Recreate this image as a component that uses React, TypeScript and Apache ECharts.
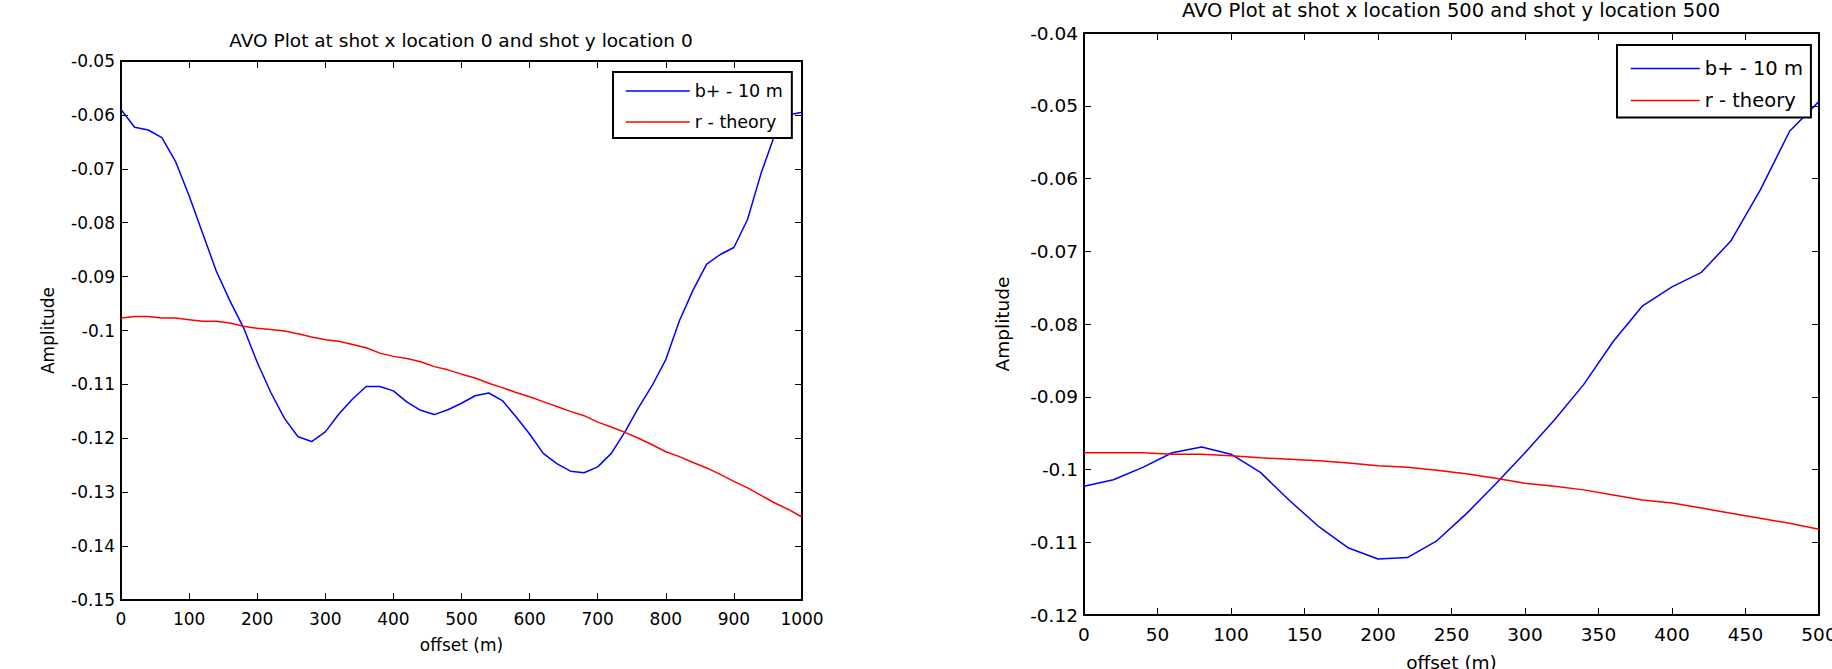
import React, { useEffect, useRef } from "react";
import * as echarts from "echarts";

const FONT = "DejaVu Sans";

const leftTitle = "AVO Plot at shot x location 0 and shot y location 0";
const rightTitle = "AVO Plot at shot x location 500 and shot y location 500";
const seriesNames = ["b+ - 10 m", "r - theory"];
const xAxisName = "offset (m)";
const yAxisName = "Amplitude";

const leftOffsets = [
  0, 20, 40, 60, 80, 100, 120, 140, 160, 180, 200, 220, 240, 260, 280, 300, 320, 340, 360, 380,
  400, 420, 440, 460, 480, 500, 520, 540, 560, 580, 600, 620, 640, 660, 680, 700, 720, 740, 760,
  780, 800, 820, 840, 860, 880, 900, 920, 940, 960, 980, 1000,
];
const leftMeasured = [
  -0.059, -0.0623, -0.0628, -0.0642, -0.0686, -0.075, -0.082, -0.089, -0.0945, -0.0995, -0.1059,
  -0.1115, -0.1163, -0.1197, -0.1206, -0.1188, -0.1155, -0.1127, -0.1104, -0.1104, -0.1112,
  -0.1133, -0.1148, -0.1156, -0.1147, -0.1135, -0.1121, -0.1116, -0.113, -0.116, -0.1192,
  -0.1228, -0.1247, -0.1261, -0.1264, -0.1253, -0.1228, -0.1188, -0.1143, -0.1102, -0.1054,
  -0.0982, -0.0925, -0.0877, -0.0859, -0.0846, -0.0794, -0.0708, -0.0637, -0.06, -0.0595,
];
const leftTheory = [
  -0.0977, -0.0974, -0.0974, -0.0977, -0.0977, -0.098, -0.0983, -0.0983, -0.0986, -0.0992,
  -0.0996, -0.0998, -0.1001, -0.1006, -0.1012, -0.1017, -0.102, -0.1026, -0.1032, -0.1042,
  -0.1048, -0.1052, -0.1058, -0.1067, -0.1073, -0.1081, -0.1088, -0.1098, -0.1106, -0.1115,
  -0.1123, -0.1132, -0.1141, -0.115, -0.1158, -0.117, -0.1179, -0.1189, -0.12, -0.1212, -0.1225,
  -0.1234, -0.1245, -0.1255, -0.1267, -0.128, -0.1292, -0.1306, -0.132, -0.1332, -0.1346,
];

const rightOffsets = [
  0, 20, 40, 60, 80, 100, 120, 140, 160, 180, 200, 220, 240, 260, 280, 300, 320, 340, 360, 380,
  400, 420, 440, 460, 480, 500,
];
const rightMeasured = [
  -0.1023, -0.1014, -0.0997, -0.0977, -0.0969, -0.0979, -0.1004, -0.1043, -0.1079, -0.1108,
  -0.1123, -0.1121, -0.1098, -0.1061, -0.102, -0.0977, -0.0932, -0.0883, -0.0824, -0.0775,
  -0.0749, -0.0729, -0.0686, -0.0616, -0.0535, -0.0494,
];
const rightTheory = [
  -0.0977, -0.0977, -0.0977, -0.0979, -0.0979, -0.0981, -0.0984, -0.0986, -0.0988, -0.0991,
  -0.0995, -0.0997, -0.1001, -0.1006, -0.1012, -0.1019, -0.1023, -0.1028, -0.1035, -0.1042,
  -0.1046, -0.1053, -0.106, -0.1067, -0.1074, -0.1082,
];

const leftXRange = { min: 0, max: 1000, interval: 100 };
const leftYRange = { min: -0.15, max: -0.05, interval: 0.01 };
const rightXRange = { min: 0, max: 500, interval: 50 };
const rightYRange = { min: -0.12, max: -0.04, interval: 0.01 };

const BLUE = "#0000ff";
const RED = "#ff0000";

const fmt = (v: number) => String(parseFloat(v.toFixed(4)));

function makeAxis(
  range: { min: number; max: number; interval: number },
  gridIndex: number,
  position: string,
  showLabel: boolean,
  fontSize: number,
  margin: number,
  name?: string,
  nameGap?: number
) {
  return {
    type: "value",
    gridIndex,
    position,
    min: range.min,
    max: range.max,
    interval: range.interval,
    name: name || "",
    nameLocation: "middle",
    nameGap: nameGap || 0,
    nameMoveOverlap: false,
    nameTextStyle: { fontFamily: FONT, fontSize, color: "#000" },
    axisLine: { show: true, onZero: false, lineStyle: { color: "#000", width: 2 } },
    axisTick: { show: true, inside: true, length: 7, lineStyle: { color: "#000", width: 1 } },
    axisLabel: {
      show: showLabel,
      margin,
      fontFamily: FONT,
      fontSize,
      color: "#000",
      formatter: fmt,
      showMinLabel: true,
      showMaxLabel: true,
      hideOverlap: false,
    },
    splitLine: { show: false },
  };
}

function pairs(xs: number[], ys: number[]) {
  return xs.map((x, i) => [x, ys[i]]);
}

function lineSeries(name: string, data: number[][], color: string, axisIndex: number) {
  return {
    type: "line",
    name,
    data,
    xAxisIndex: axisIndex,
    yAxisIndex: axisIndex,
    symbol: "none",
    showSymbol: false,
    silent: true,
    lineStyle: { color, width: 1.5 },
    itemStyle: { color },
  };
}

const hiddenSymbol = {
  color: "rgba(0,0,0,0)",
  borderColor: "rgba(0,0,0,0)",
  borderWidth: 0,
  opacity: 0,
};

export default function App() {
  const ref = useRef<HTMLDivElement>(null);
  useEffect(() => {
    if (!ref.current) return;
    const chart = echarts.init(ref.current, undefined, { renderer: "svg" });
    chart.setOption({
      animation: false,
      backgroundColor: "#fff",
      title: [
        {
          text: leftTitle,
          left: 461,
          top: 31,
          padding: 0,
          textAlign: "center",
          textStyle: { fontFamily: FONT, fontSize: 18.5, fontWeight: "normal", color: "#000" },
        },
        {
          text: rightTitle,
          left: 1451,
          top: 0,
          padding: 0,
          textAlign: "center",
          textStyle: { fontFamily: FONT, fontSize: 19.5, fontWeight: "normal", color: "#000" },
        },
      ],
      grid: [
        { left: 121, top: 61, width: 681, height: 539, containLabel: false, outerBoundsMode: "none" },
        { left: 1084, top: 33, width: 735, height: 582, containLabel: false, outerBoundsMode: "none" },
      ],
      xAxis: [
        makeAxis(leftXRange, 0, "bottom", true, 17, 10, xAxisName, 36),
        makeAxis(leftXRange, 0, "top", false, 17, 10),
        makeAxis(rightXRange, 1, "bottom", true, 18.5, 9.5, xAxisName, 38),
        makeAxis(rightXRange, 1, "top", false, 18.5, 9.5),
      ],
      yAxis: [
        makeAxis(leftYRange, 0, "left", true, 17, 6, yAxisName, 65),
        makeAxis(leftYRange, 0, "right", false, 17, 6),
        makeAxis(rightYRange, 1, "left", true, 18.5, 6, yAxisName, 72),
        makeAxis(rightYRange, 1, "right", false, 18.5, 6),
      ],
      legend: [
        {
          orient: "vertical",
          left: 613,
          top: 72,
          padding: [10, 9, 7, 12],
          itemWidth: 64,
          itemHeight: 14,
          itemGap: 13,
          borderColor: "#000",
          borderWidth: 2,
          borderRadius: 0,
          backgroundColor: "#fff",
          selectedMode: false,
          itemStyle: hiddenSymbol,
          lineStyle: { width: 1.5 },
          textStyle: { fontFamily: FONT, fontSize: 17.5, color: "#000" },
          data: seriesNames,
        },
        {
          orient: "vertical",
          left: 1617,
          top: 45,
          padding: [13.5, 8, 7, 13],
          itemWidth: 69,
          itemHeight: 14,
          itemGap: 12,
          borderColor: "#000",
          borderWidth: 2,
          borderRadius: 0,
          backgroundColor: "#fff",
          selectedMode: false,
          itemStyle: hiddenSymbol,
          lineStyle: { width: 1.5 },
          textStyle: { fontFamily: FONT, fontSize: 19.5, color: "#000" },
          data: seriesNames,
        },
      ],
      series: [
        lineSeries(seriesNames[0], pairs(leftOffsets, leftMeasured), BLUE, 0),
        lineSeries(seriesNames[1], pairs(leftOffsets, leftTheory), RED, 0),
        lineSeries(seriesNames[0], pairs(rightOffsets, rightMeasured), BLUE, 2),
        lineSeries(seriesNames[1], pairs(rightOffsets, rightTheory), RED, 2),
      ],
    });
    return () => chart.dispose();
  }, []);
  return (
    <div
      ref={ref}
      style={{ position: "absolute", left: 0, top: 0, width: 1832, height: 669, background: "#fff" }}
    />
  );
}
